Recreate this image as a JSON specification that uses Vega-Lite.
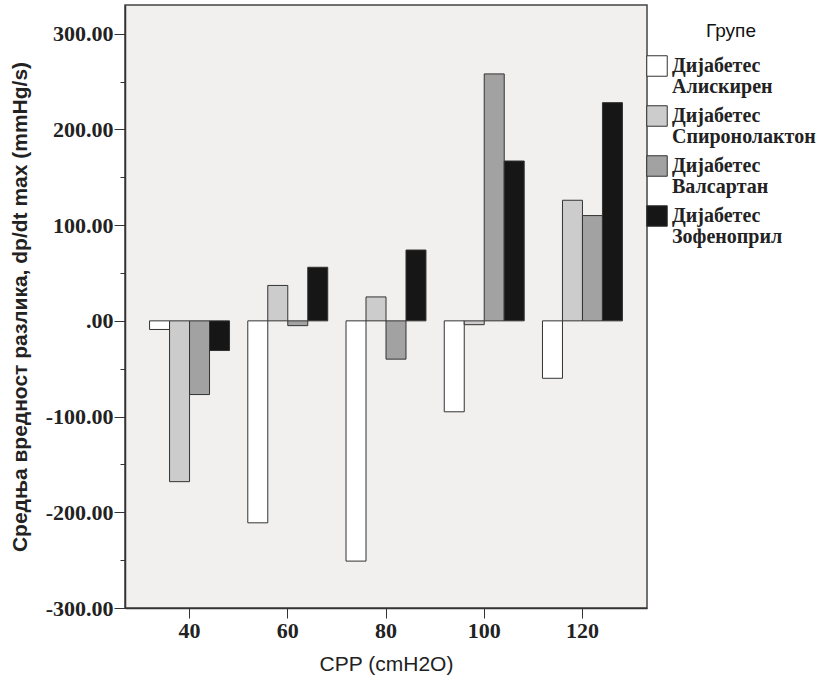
{
  "$schema": "https://vega.github.io/schema/vega-lite/v6.json",
  "width": 522,
  "height": 603,
  "autosize": {"type": "none"},
  "padding": {"left": 125, "top": 5, "right": 185, "bottom": 79},
  "background": "#ffffff",
  "config": {
    "view": {"fill": "#f1f0ef", "stroke": "#444444", "strokeWidth": 1.5},
    "axis": {"grid": false},
    "style": {"guide-label": {"lineHeight": 21}}
  },
  "data": {
    "values": [
      {"cpp": "40", "group": "Дијабетес|Алискирен", "v": -9},
      {"cpp": "40", "group": "Дијабетес|Спиронолактон", "v": -168},
      {"cpp": "40", "group": "Дијабетес|Валсартан", "v": -77},
      {"cpp": "40", "group": "Дијабетес|Зофеноприл", "v": -31},
      {"cpp": "60", "group": "Дијабетес|Алискирен", "v": -211},
      {"cpp": "60", "group": "Дијабетес|Спиронолактон", "v": 37},
      {"cpp": "60", "group": "Дијабетес|Валсартан", "v": -5},
      {"cpp": "60", "group": "Дијабетес|Зофеноприл", "v": 56},
      {"cpp": "80", "group": "Дијабетес|Алискирен", "v": -251},
      {"cpp": "80", "group": "Дијабетес|Спиронолактон", "v": 25},
      {"cpp": "80", "group": "Дијабетес|Валсартан", "v": -40},
      {"cpp": "80", "group": "Дијабетес|Зофеноприл", "v": 74},
      {"cpp": "100", "group": "Дијабетес|Алискирен", "v": -95},
      {"cpp": "100", "group": "Дијабетес|Спиронолактон", "v": -4},
      {"cpp": "100", "group": "Дијабетес|Валсартан", "v": 258},
      {"cpp": "100", "group": "Дијабетес|Зофеноприл", "v": 167},
      {"cpp": "120", "group": "Дијабетес|Алискирен", "v": -60},
      {"cpp": "120", "group": "Дијабетес|Спиронолактон", "v": 126},
      {"cpp": "120", "group": "Дијабетес|Валсартан", "v": 110},
      {"cpp": "120", "group": "Дијабетес|Зофеноприл", "v": 228}
    ]
  },
  "mark": {"type": "bar", "stroke": "#333333", "strokeWidth": 1},
  "encoding": {
    "x": {
      "field": "cpp",
      "type": "ordinal",
      "sort": ["40", "60", "80", "100", "120"],
      "scale": {"paddingInner": 0.186, "paddingOuter": 0.25},
      "axis": {
        "title": "CPP (cmH2O)",
        "titleFont": "Liberation Sans",
        "titleFontSize": 21,
        "titleFontWeight": "normal",
        "titleColor": "#222222",
        "titlePadding": 12,
        "labelAngle": 0,
        "labelFont": "Liberation Serif",
        "labelFontSize": 22,
        "labelFontWeight": "bold",
        "labelColor": "#222222",
        "labelPadding": 2,
        "tickSize": 10,
        "tickColor": "#333333",
        "domainColor": "#333333",
        "domainWidth": 1.5
      }
    },
    "xOffset": {
      "field": "group",
      "type": "nominal",
      "sort": ["Дијабетес|Алискирен", "Дијабетес|Спиронолактон", "Дијабетес|Валсартан", "Дијабетес|Зофеноприл"],
      "scale": {"paddingInner": 0, "paddingOuter": 0}
    },
    "y": {
      "field": "v",
      "type": "quantitative",
      "scale": {"domain": [-300, 330], "nice": false, "zero": false},
      "axis": {
        "title": "Средња вредност разлика, dp/dt max  (mmHg/s)",
        "titleFont": "Liberation Sans",
        "titleFontSize": 21,
        "titleFontWeight": "bold",
        "titleColor": "#222222",
        "titlePadding": 15,
        "values": [-300, -250, -200, -150, -100, -50, 0, 50, 100, 150, 200, 250, 300],
        "labelExpr": "datum.value % 100 != 0 ? '' : (datum.value == 0 ? '.00' : replace(format(datum.value, '.2f'), '−', '-'))",
        "labelFont": "Liberation Serif",
        "labelFontSize": 22,
        "labelFontWeight": "bold",
        "labelColor": "#222222",
        "labelPadding": 1,
        "tickSize": {"condition": {"test": "datum.value % 100 != 0", "value": 5}, "value": 11},
        "tickColor": "#333333",
        "domainColor": "#333333",
        "domainWidth": 1.5
      }
    },
    "fill": {
      "field": "group",
      "type": "nominal",
      "sort": ["Дијабетес|Алискирен", "Дијабетес|Спиронолактон", "Дијабетес|Валсартан", "Дијабетес|Зофеноприл"],
      "scale": {
        "domain": ["Дијабетес|Алискирен", "Дијабетес|Спиронолактон", "Дијабетес|Валсартан", "Дијабетес|Зофеноприл"],
        "range": ["#ffffff", "#cccccc", "#a2a2a2", "#161616"]
      },
      "legend": {
        "title": "Групе",
        "orient": "none",
        "legendX": 521,
        "legendY": 17,
        "titleFont": "Liberation Sans",
        "titleFontSize": 19,
        "titleFontWeight": "normal",
        "titleColor": "#111111",
        "titleAnchor": "middle",
        "titlePadding": 14,
        "symbolType": "square",
        "symbolSize": 420,
        "symbolStrokeColor": "#333333",
        "symbolStrokeWidth": 1,
        "symbolOpacity": 1,
        "labelExpr": "split(datum.label, '|')",
        "labelFont": "Liberation Serif",
        "labelFontSize": 20,
        "labelFontWeight": "bold",
        "labelColor": "#222222",
        "labelOffset": 4,
        "labelLimit": 200,
        "rowPadding": 6
      }
    }
  }
}
